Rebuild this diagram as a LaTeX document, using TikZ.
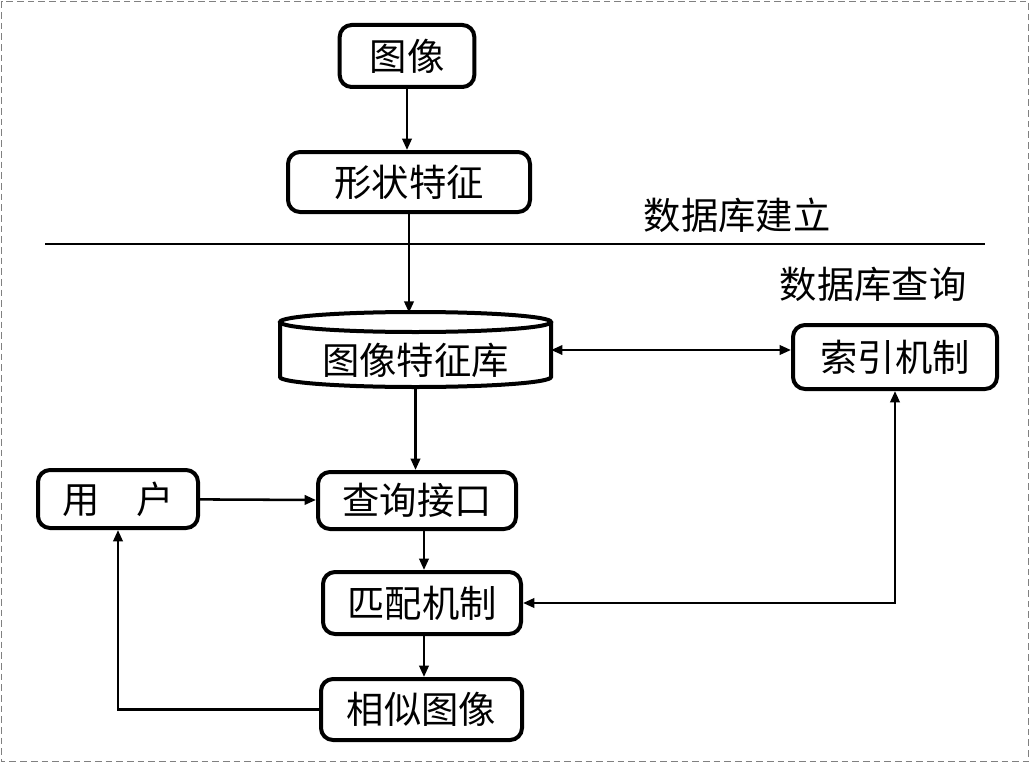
\documentclass[tikz,border=0pt]{standalone}
\usepackage{fontspec}
\setmainfont{Noto Sans CJK SC}
\usetikzlibrary{arrows.meta}
\tikzset{
  box/.style={draw, line width=3pt, rounded corners=9pt, font=\fontsize{28}{32}\selectfont, inner sep=0pt},
  conn/.style={line width=1.9pt, -{Triangle[length=8.5pt,width=7pt]}},
  dconn/.style={line width=1.9pt, {Triangle[length=8.5pt,width=7pt]}-{Triangle[length=8.5pt,width=7pt]}},
  lbl/.style={font=\fontsize{28}{32}\selectfont, inner sep=0pt}
}
\begin{document}
\begin{tikzpicture}[x=0.75pt,y=-0.75pt]
\useasboundingbox (0,0) rectangle (1030,763);
\draw[gray, line width=1pt, dash pattern=on 5pt off 3pt] (1.5,1.5) rectangle (1028.5,761.5);

\node[box, minimum width=101pt, minimum height=46.5pt] (tx) at (407,56) {图像};
\node[box, minimum width=181.5pt, minimum height=45pt] (xz) at (409,182) {形状特征};

% cylinder
\draw[line width=3pt, fill=white] (280,322) -- (280,377) arc[start angle=180, end angle=0, x radius=135.5, y radius=10] -- (551,322);
\draw[line width=3pt] (415.5,322) ellipse [x radius=135.5, y radius=10];
\node[inner sep=0pt, minimum width=203pt, minimum height=55.5pt] (db) at (415.5,350) {};
\node[lbl] (dbt) at (415.5,360) {图像特征库};

\node[box, minimum width=153pt, minimum height=48pt] (sy) at (895,357) {索引机制};
\node[box, minimum width=120pt, minimum height=43.5pt] (yh) at (118,499) {用　户};
\node[box, minimum width=148.5pt, minimum height=42.75pt] (cx) at (417,500.5) {查询接口};
\node[box, minimum width=148.5pt, minimum height=46.5pt] (pp) at (422,603) {匹配机制};
\node[box, minimum width=150.75pt, minimum height=45.75pt] (xs) at (421.5,709.5) {相似图像};

\node[lbl] (jl) at (737,215) {数据库建立};
\node[lbl] (cxl) at (873,284) {数据库查询};

\coordinate (la) at (45,244);
\coordinate (lb) at (985,244);
\draw[line width=1.9pt] (la) -- (lb);

\draw[conn] (tx.south) -- (tx.south |- xz.north);
\draw[conn] (xz.south) -- (xz.south |- db.north);
\draw[dconn] (db.east) -- (db.east -| sy.west);
\draw[conn] (db.south) -- (db.south |- cx.north);
\draw[conn] (yh) -- (cx);
\draw[conn] (cx.south -| 424,0) -- (pp.north -| 424,0);
\draw[dconn] (pp.east) -| (sy.south);
\draw[conn] (pp.south -| 424,0) -- (xs.north -| 424,0);
\draw[conn] (xs.west) -| (yh.south);
\end{tikzpicture}
\end{document}
